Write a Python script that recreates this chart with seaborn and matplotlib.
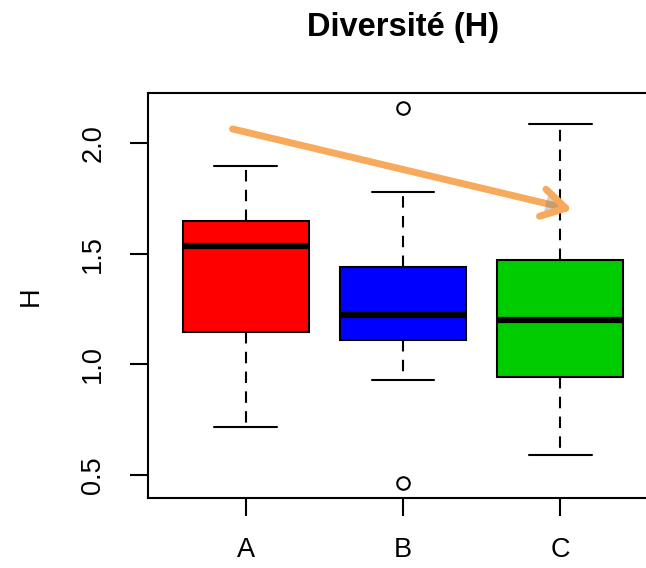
import matplotlib
matplotlib.use("Agg")
import matplotlib.pyplot as plt
import matplotlib.patheffects as pe
import pandas as pd
import seaborn as sns

groups = ["A", "B", "C"]
h_a = [0.715, 1.145, 1.533, 1.65, 1.898]
h_b = [0.463, 0.928, 1.109, 1.15, 1.223, 1.30, 1.44, 1.78, 2.157]
h_c = [0.59, 0.945, 1.202, 1.47, 2.086]
box_colors = ["#FF0000", "#0000FF", "#00CD00"]
y_ticks = [0.5, 1.0, 1.5, 2.0]

# trend arrow (data coords, x = category index)
arrow_start = (-0.083, 2.064)
arrow_end = (2.076, 1.699)

df = pd.DataFrame({
    "group": ["A"] * len(h_a) + ["B"] * len(h_b) + ["C"] * len(h_c),
    "H": h_a + h_b + h_c,
})

sns.set_style("ticks")
plt.rcParams["font.family"] = ["Liberation Sans", "DejaVu Sans"]
plt.rcParams.update({"text.color": "black", "axes.labelcolor": "black",
                     "xtick.color": "black", "ytick.color": "black"})

fig = plt.figure(figsize=(6.46, 5.68), dpi=100)
ax = fig.add_axes([0.2291, 0.1227, 0.7895, 0.713])

sns.boxplot(
    data=df, x="group", y="H", hue="group", order=groups, hue_order=groups,
    palette=box_colors, saturation=1, width=0.8, linecolor="black",
    linewidth=1.5, legend=False, ax=ax,
    whiskerprops=dict(linestyle=(0, (5.5, 4))),
    medianprops=dict(linewidth=4.5),
    flierprops=dict(marker="o", markerfacecolor="none", markeredgecolor="black",
                    markersize=9, markeredgewidth=1.5),
)

ann = ax.annotate(
    "", xy=arrow_end, xytext=arrow_start,
    arrowprops=dict(arrowstyle="->,head_length=1.7,head_width=1.0", lw=5,
                    color="#F8A95C", capstyle="round", joinstyle="round",
                    shrinkA=0, shrinkB=0),
)
ann.arrow_patch.set_path_effects([
    pe.withSimplePatchShadow(offset=(2, -2), shadow_rgbFace="gray", alpha=0.35)
])

ax.set_xlim(-0.62, 2.62)
ax.set_ylim(0.395, 2.225)
ax.set_yticks(y_ticks)
ax.set_yticklabels([f"{v:.1f}" for v in y_ticks])
ax.set_xlabel("")
ax.set_ylabel("H", fontsize=19.5)
ax.yaxis.set_label_coords(-0.205, 0.5)
ax.set_title("Diversité (H)", fontsize=23.5, fontweight="bold", pad=41)

ax.tick_params(axis="both", length=13, width=1.5, labelsize=19.5)
ax.tick_params(axis="x", pad=15)
ax.tick_params(axis="y", pad=17)
plt.setp(ax.get_yticklabels(), rotation=90, va="center")
for s in ax.spines.values():
    s.set_linewidth(1.5)
    s.set_color("black")

fig.savefig("out.png", dpi=100)
